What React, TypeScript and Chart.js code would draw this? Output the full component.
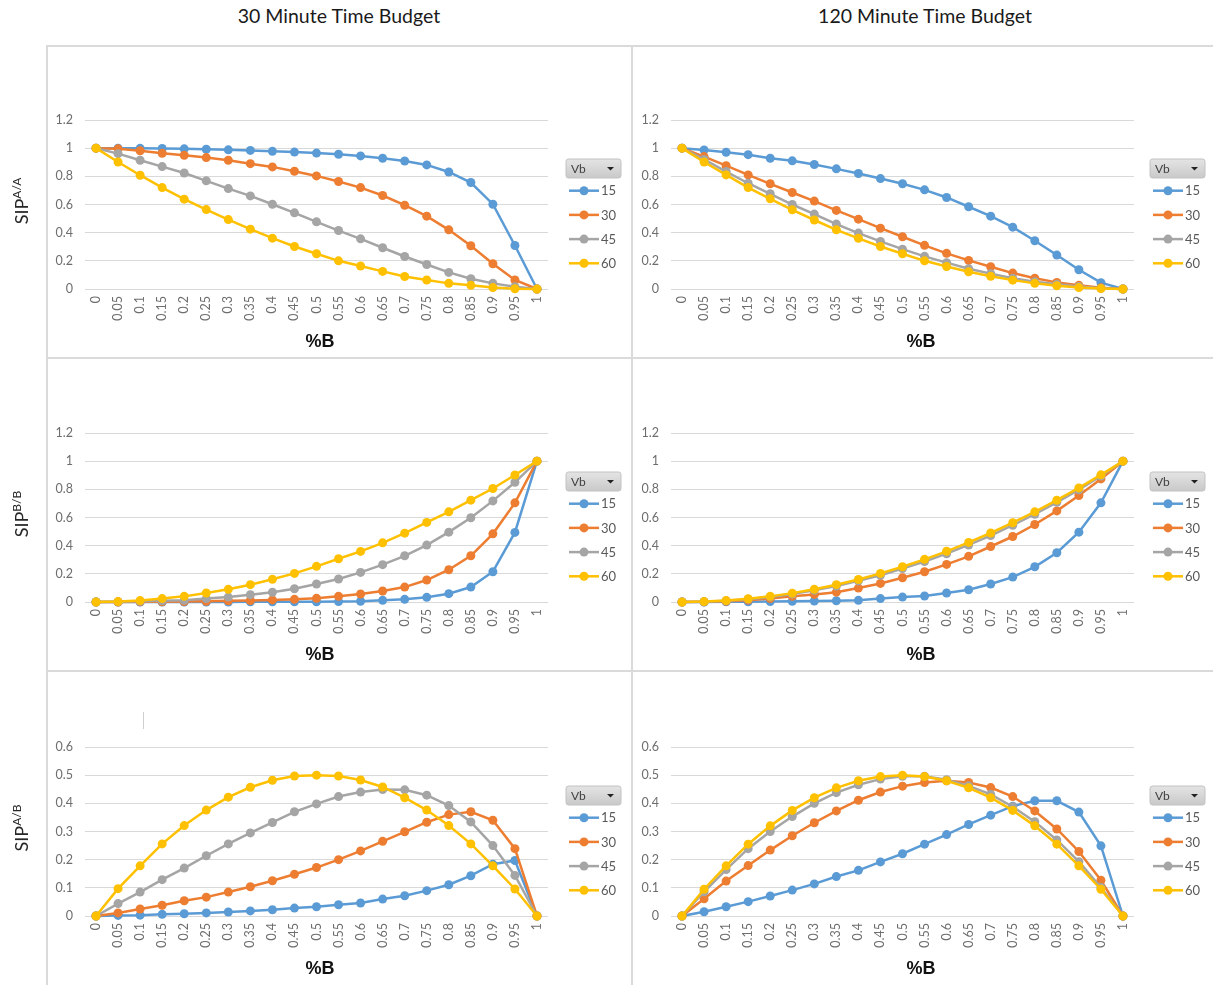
import React, { useEffect, useRef } from 'react';
import { Chart, registerables } from 'chart.js';
Chart.register(...registerables);

// ---------- data ----------
const percentB = ['0', '0.05', '0.1', '0.15', '0.2', '0.25', '0.3', '0.35', '0.4', '0.45', '0.5', '0.55', '0.6', '0.65', '0.7', '0.75', '0.8', '0.85', '0.9', '0.95', '1'];
const vbLabels = ['15', '30', '45', '60'];
const seriesColors = ['#5B9BD5', '#ED7D31', '#A5A5A5', '#FFC000'];
const columnTitles = ['30 Minute Time Budget', '120 Minute Time Budget'];
const rowSuperscripts = ['A/A', 'B/B', 'A/B'];
const yTicksProb = [0, 0.2, 0.4, 0.6, 0.8, 1, 1.2];
const yTicksJoint = [0, 0.1, 0.2, 0.3, 0.4, 0.5, 0.6];

// SIP A/A, 30 min
const aa30_vb15 = [1, 1, 0.999, 0.998, 0.995, 0.992, 0.988, 0.984, 0.978, 0.972, 0.965, 0.957, 0.945, 0.928, 0.909, 0.881, 0.831, 0.756, 0.602, 0.309, 0];
const aa30_vb30 = [1, 0.995, 0.982, 0.964, 0.95, 0.933, 0.914, 0.89, 0.867, 0.836, 0.803, 0.763, 0.72, 0.664, 0.595, 0.517, 0.42, 0.307, 0.179, 0.064, 0];
const aa30_vb45 = [1, 0.961, 0.914, 0.869, 0.824, 0.768, 0.713, 0.661, 0.602, 0.541, 0.477, 0.415, 0.356, 0.293, 0.231, 0.174, 0.118, 0.073, 0.04, 0.016, 0];
const aa30_vb60 = [1, 0.902, 0.808, 0.72, 0.638, 0.564, 0.493, 0.425, 0.361, 0.302, 0.25, 0.2, 0.163, 0.125, 0.089, 0.064, 0.04, 0.026, 0.01, 0.002, 0];
// SIP A/A, 120 min
const aa120_vb15 = [1, 0.987, 0.971, 0.954, 0.928, 0.91, 0.884, 0.853, 0.82, 0.784, 0.747, 0.704, 0.65, 0.584, 0.517, 0.439, 0.343, 0.241, 0.137, 0.045, 0];
const aa120_vb30 = [1, 0.94, 0.876, 0.81, 0.747, 0.685, 0.624, 0.558, 0.496, 0.432, 0.371, 0.31, 0.253, 0.203, 0.158, 0.113, 0.076, 0.047, 0.026, 0.009, 0];
const aa120_vb45 = [1, 0.92, 0.834, 0.751, 0.676, 0.6, 0.532, 0.461, 0.397, 0.338, 0.283, 0.232, 0.187, 0.144, 0.109, 0.076, 0.052, 0.033, 0.017, 0.005, 0];
const aa120_vb60 = [1, 0.902, 0.81, 0.72, 0.64, 0.562, 0.49, 0.42, 0.36, 0.302, 0.25, 0.2, 0.16, 0.122, 0.09, 0.063, 0.04, 0.023, 0.01, 0.003, 0];
// SIP B/B, 30 min
const bb30_vb15 = [0, 0, 0, 0, 0, 0, 0, 0.001, 0.001, 0.002, 0.002, 0.003, 0.005, 0.012, 0.019, 0.033, 0.059, 0.106, 0.215, 0.494, 1];
const bb30_vb30 = [0, 0, 0.001, 0.002, 0.003, 0.005, 0.008, 0.011, 0.015, 0.019, 0.026, 0.04, 0.057, 0.078, 0.106, 0.156, 0.229, 0.328, 0.484, 0.704, 1];
const bb30_vb45 = [0, 0.001, 0.005, 0.008, 0.012, 0.024, 0.035, 0.052, 0.069, 0.094, 0.128, 0.163, 0.21, 0.265, 0.328, 0.404, 0.496, 0.598, 0.718, 0.85, 1];
const bb30_vb60 = [0, 0.003, 0.01, 0.024, 0.04, 0.064, 0.09, 0.123, 0.161, 0.203, 0.253, 0.307, 0.359, 0.42, 0.489, 0.565, 0.64, 0.723, 0.806, 0.902, 1];
// SIP B/B, 120 min
const bb120_vb15 = [0, 0, 0.001, 0.002, 0.003, 0.005, 0.007, 0.009, 0.012, 0.024, 0.035, 0.043, 0.064, 0.087, 0.128, 0.177, 0.25, 0.35, 0.496, 0.704, 1];
const bb120_vb30 = [0, 0.001, 0.005, 0.013, 0.025, 0.04, 0.054, 0.07, 0.099, 0.132, 0.172, 0.215, 0.267, 0.324, 0.394, 0.465, 0.55, 0.647, 0.756, 0.874, 1];
const bb120_vb45 = [0, 0.002, 0.009, 0.02, 0.036, 0.057, 0.083, 0.113, 0.15, 0.19, 0.237, 0.287, 0.343, 0.405, 0.472, 0.545, 0.623, 0.708, 0.797, 0.895, 1];
const bb120_vb60 = [0, 0.003, 0.01, 0.023, 0.04, 0.063, 0.09, 0.123, 0.16, 0.203, 0.25, 0.303, 0.36, 0.423, 0.49, 0.563, 0.64, 0.723, 0.81, 0.903, 1];
// SIP A/B, 30 min
const ab30_vb15 = [0, 0.002, 0.003, 0.006, 0.008, 0.011, 0.014, 0.018, 0.022, 0.028, 0.033, 0.04, 0.046, 0.06, 0.072, 0.09, 0.111, 0.143, 0.184, 0.197, 0];
const ab30_vb30 = [0, 0.011, 0.025, 0.038, 0.054, 0.067, 0.085, 0.104, 0.125, 0.148, 0.172, 0.2, 0.231, 0.265, 0.299, 0.333, 0.36, 0.37, 0.34, 0.239, 0];
const ab30_vb45 = [0, 0.044, 0.085, 0.129, 0.17, 0.214, 0.256, 0.295, 0.332, 0.37, 0.398, 0.424, 0.44, 0.449, 0.448, 0.429, 0.392, 0.334, 0.25, 0.144, 0];
const ab30_vb60 = [0, 0.097, 0.178, 0.256, 0.321, 0.376, 0.422, 0.457, 0.482, 0.497, 0.5, 0.497, 0.483, 0.458, 0.42, 0.376, 0.321, 0.256, 0.178, 0.096, 0];
// SIP A/B, 120 min
const ab120_vb15 = [0, 0.015, 0.033, 0.051, 0.071, 0.092, 0.114, 0.14, 0.162, 0.192, 0.221, 0.255, 0.289, 0.325, 0.358, 0.39, 0.409, 0.409, 0.369, 0.249, 0];
const ab120_vb30 = [0, 0.061, 0.124, 0.179, 0.234, 0.285, 0.331, 0.373, 0.411, 0.44, 0.461, 0.474, 0.48, 0.474, 0.456, 0.424, 0.373, 0.309, 0.229, 0.127, 0];
const ab120_vb45 = [0, 0.086, 0.165, 0.239, 0.3, 0.353, 0.4, 0.438, 0.466, 0.486, 0.496, 0.496, 0.484, 0.462, 0.432, 0.388, 0.335, 0.27, 0.193, 0.101, 0];
const ab120_vb60 = [0, 0.095, 0.178, 0.255, 0.32, 0.375, 0.42, 0.455, 0.48, 0.495, 0.5, 0.495, 0.48, 0.455, 0.42, 0.375, 0.32, 0.255, 0.178, 0.095, 0];

// ---------- layout ----------
const ROW_TOPS = [46, 359, 673];
const ROW_H = 313;
const COLS = [
  { left: 0, width: 632, panelLeft: 47, padLeft: 47, padRight: 84, legendX: 519, axisTitleX: 320 },
  { left: 633, width: 580, panelLeft: 0, padLeft: 0, padRight: 79, legendX: 517, axisTitleX: 288 },
];

const TICK_COLOR = '#6e6e6e';
const TICK_FONT = { family: 'Lato, "Open Sans", sans-serif', size: 12.5 };

type PanelDef = { row: number; col: number; series: number[][]; yMax: number; yTicks: number[] };

const panels: PanelDef[] = [
  { row: 0, col: 0, series: [aa30_vb15, aa30_vb30, aa30_vb45, aa30_vb60], yMax: 1.2, yTicks: yTicksProb },
  { row: 0, col: 1, series: [aa120_vb15, aa120_vb30, aa120_vb45, aa120_vb60], yMax: 1.2, yTicks: yTicksProb },
  { row: 1, col: 0, series: [bb30_vb15, bb30_vb30, bb30_vb45, bb30_vb60], yMax: 1.2, yTicks: yTicksProb },
  { row: 1, col: 1, series: [bb120_vb15, bb120_vb30, bb120_vb45, bb120_vb60], yMax: 1.2, yTicks: yTicksProb },
  { row: 2, col: 0, series: [ab30_vb15, ab30_vb30, ab30_vb45, ab30_vb60], yMax: 0.6, yTicks: yTicksJoint },
  { row: 2, col: 1, series: [ab120_vb15, ab120_vb30, ab120_vb45, ab120_vb60], yMax: 0.6, yTicks: yTicksJoint },
];

function roundRect(ctx: CanvasRenderingContext2D, x: number, y: number, w: number, h: number, r: number) {
  ctx.beginPath();
  ctx.moveTo(x + r, y);
  ctx.lineTo(x + w - r, y);
  ctx.quadraticCurveTo(x + w, y, x + w, y + r);
  ctx.lineTo(x + w, y + h - r);
  ctx.quadraticCurveTo(x + w, y + h, x + w - r, y + h);
  ctx.lineTo(x + r, y + h);
  ctx.quadraticCurveTo(x, y + h, x, y + h - r);
  ctx.lineTo(x, y + r);
  ctx.quadraticCurveTo(x, y, x + r, y);
  ctx.closePath();
}

function Panel({ def }: { def: PanelDef }) {
  const ref = useRef<HTMLCanvasElement>(null);
  const col = COLS[def.col];
  useEffect(() => {
    const decor = {
      id: 'decor',
      afterDraw(chart: any) {
        const ctx: CanvasRenderingContext2D = chart.ctx;
        ctx.save();
        // x-axis title
        ctx.fillStyle = '#111';
        ctx.font = 'bold 18px "Liberation Sans", Arial, sans-serif';
        ctx.textAlign = 'center';
        ctx.textBaseline = 'middle';
        ctx.fillText('%B', col.axisTitleX, 296);
        // y-axis title (left column only)
        if (def.col === 0) {
          ctx.save();
          ctx.translate(22, 155);
          ctx.rotate(-Math.PI / 2);
          const mainFont = '18px Lato, "Open Sans", sans-serif';
          const supFont = '12px Lato, "Open Sans", sans-serif';
          ctx.font = mainFont;
          const w1 = ctx.measureText('SIP').width;
          ctx.font = supFont;
          const sup = rowSuperscripts[def.row];
          const w2 = ctx.measureText(sup).width;
          const x0 = -(w1 + w2) / 2;
          ctx.textAlign = 'left';
          ctx.textBaseline = 'alphabetic';
          ctx.fillStyle = '#262626';
          ctx.font = mainFont;
          ctx.fillText('SIP', x0, 6);
          ctx.font = supFont;
          ctx.fillText(sup, x0 + w1, -1.5);
          ctx.restore();
        }
        // legend
        const lx = col.panelLeft + col.legendX;
        const by = 113;
        const grad = ctx.createLinearGradient(0, by, 0, by + 19);
        grad.addColorStop(0, '#e4e4e4');
        grad.addColorStop(1, '#c9c9c9');
        roundRect(ctx, lx, by, 55, 19, 2.5);
        ctx.fillStyle = grad;
        ctx.fill();
        ctx.strokeStyle = '#c2c2c2';
        ctx.lineWidth = 1;
        ctx.stroke();
        ctx.fillStyle = '#404040';
        ctx.font = '12px Lato, "Open Sans", sans-serif';
        ctx.textAlign = 'left';
        ctx.textBaseline = 'middle';
        ctx.fillText('Vb', lx + 5, by + 10);
        ctx.beginPath();
        ctx.moveTo(lx + 41, by + 8);
        ctx.lineTo(lx + 48, by + 8);
        ctx.lineTo(lx + 44.5, by + 11.5);
        ctx.closePath();
        ctx.fillStyle = '#222';
        ctx.fill();
        chart.data.datasets.forEach((ds: any, i: number) => {
          const y = 144.7 + i * 24.2;
          ctx.strokeStyle = ds.borderColor;
          ctx.lineWidth = 2.5;
          ctx.beginPath();
          ctx.moveTo(lx + 3, y);
          ctx.lineTo(lx + 33, y);
          ctx.stroke();
          ctx.fillStyle = ds.borderColor;
          ctx.beginPath();
          ctx.arc(lx + 18, y, 4.5, 0, Math.PI * 2);
          ctx.fill();
          ctx.fillStyle = '#595959';
          ctx.font = '13px Lato, "Open Sans", sans-serif';
          ctx.fillText(ds.label, lx + 35, y + 0.5);
        });
        ctx.restore();
      },
    };

    const chart = new Chart(ref.current as HTMLCanvasElement, {
      type: 'line',
      data: {
        labels: percentB,
        datasets: def.series.map((d, i) => ({
          label: vbLabels[i],
          data: d,
          borderColor: seriesColors[i],
          backgroundColor: seriesColors[i],
          pointBackgroundColor: seriesColors[i],
          pointBorderColor: seriesColors[i],
          pointRadius: 4.5,
          pointHoverRadius: 4.5,
          pointBorderWidth: 0,
          borderWidth: 2.5,
          tension: 0,
          fill: false,
          order: 3 - i,
          clip: false as any,
        })),
      },
      options: {
        responsive: false,
        animation: false,
        events: [],
        layout: { padding: { left: col.padLeft, right: col.padRight, top: 74, bottom: 0 } },
        plugins: { legend: { display: false }, tooltip: { enabled: false } },
        scales: {
          x: {
            type: 'category',
            offset: true,
            grid: { display: false, drawTicks: false },
            border: { display: false },
            ticks: { minRotation: 90, maxRotation: 90, autoSkip: false, padding: 7, color: TICK_COLOR, font: TICK_FONT },
            afterFit: (s: any) => { s.height = ROW_H - 74 - 169; },
          },
          y: {
            min: 0,
            max: def.yMax,
            afterBuildTicks: (s: any) => { s.ticks = def.yTicks.map((v) => ({ value: v })); },
            grid: { color: '#d9d9d9', lineWidth: 1, drawTicks: false },
            border: { display: false },
            ticks: { padding: 12, color: TICK_COLOR, font: TICK_FONT, callback: (v: any) => String(v) },
            afterFit: (s: any) => { s.width = 38; },
          },
        },
      } as any,
      plugins: [decor],
    });
    return () => chart.destroy();
  }, []);
  return (
    <canvas
      ref={ref}
      width={col.width}
      height={ROW_H}
      style={{ position: 'absolute', left: col.left, top: ROW_TOPS[def.row], width: col.width, height: ROW_H }}
    />
  );
}

const lineStyle = (left: number, top: number, width: number, height: number): React.CSSProperties => ({
  position: 'absolute', left, top, width, height, background: '#dadada',
});

export default function App() {
  return (
    <div style={{ position: 'absolute', left: 0, top: 0, width: 1213, height: 985, overflow: 'hidden', background: '#fff' }}>
      <div style={{ position: 'absolute', left: 139, top: 4, width: 400, textAlign: 'center', font: '19.5px Lato, "Open Sans", sans-serif', color: '#1a1a1a' }}>
        {columnTitles[0]}
      </div>
      <div style={{ position: 'absolute', left: 725, top: 4, width: 400, textAlign: 'center', font: '19.5px Lato, "Open Sans", sans-serif', color: '#1a1a1a' }}>
        {columnTitles[1]}
      </div>
      <div style={lineStyle(46, 45, 1167, 2)} />
      <div style={lineStyle(46, 45, 2, 940)} />
      <div style={lineStyle(631, 45, 2, 940)} />
      <div style={lineStyle(46, 357, 1167, 2)} />
      <div style={lineStyle(46, 670, 1167, 2)} />
      <div style={{ position: 'absolute', left: 143, top: 712, width: 1, height: 17, background: '#cfcfcf' }} />
      {panels.map((p, i) => (
        <Panel key={i} def={p} />
      ))}
    </div>
  );
}
